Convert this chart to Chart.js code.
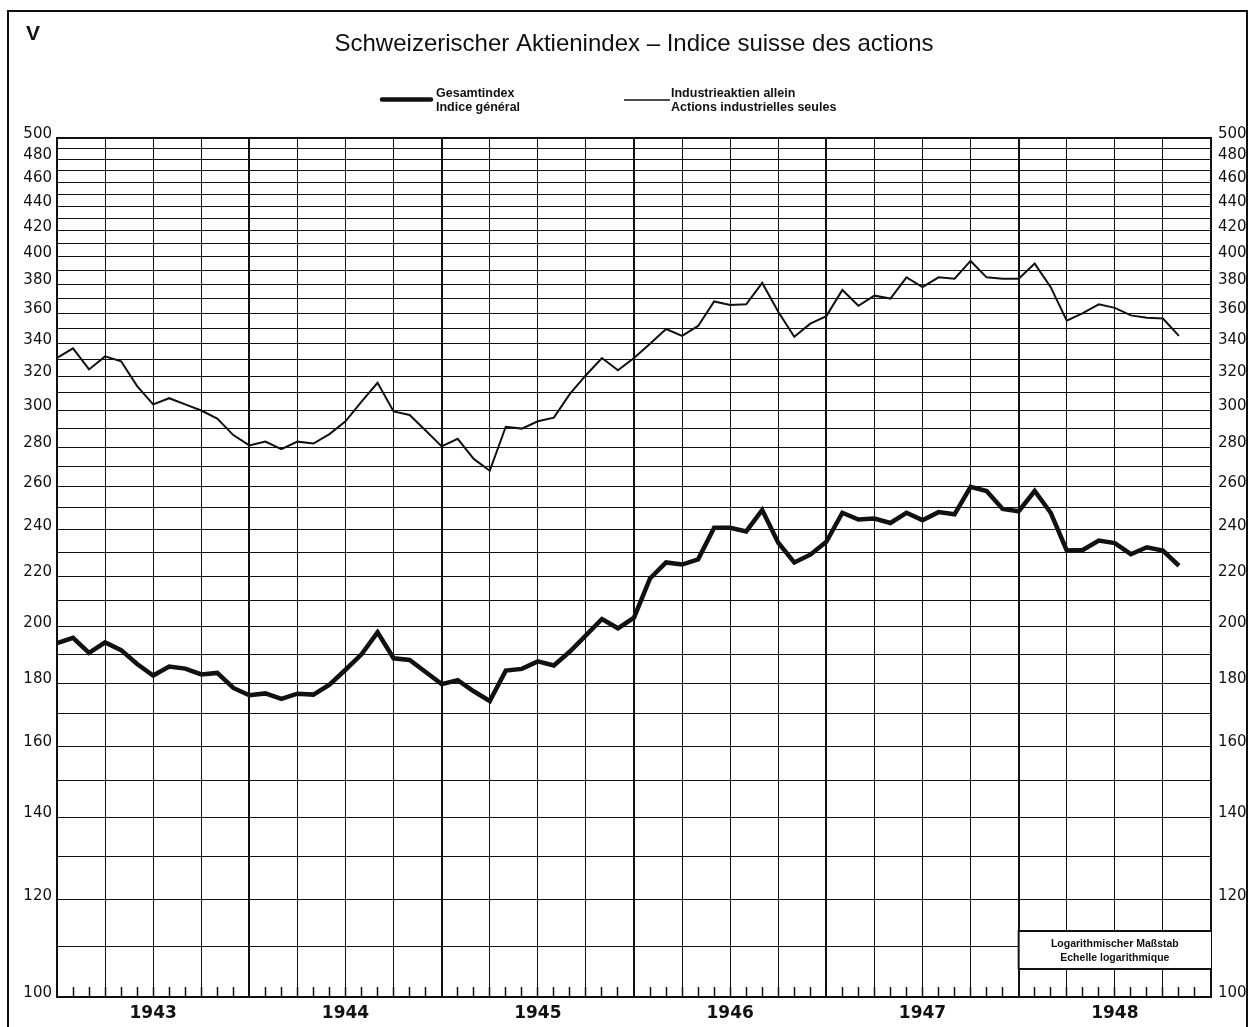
<!DOCTYPE html>
<html>
<head>
<meta charset="utf-8">
<script src="https://cdn.jsdelivr.net/npm/chart.js@4.4.1/dist/chart.umd.min.js"></script>
<style>
html,body{margin:0;padding:0;background:#fff;}
#wrap{position:relative;width:1251px;height:1027px;}
</style>
</head>
<body>
<div id="wrap"><canvas id="c"></canvas></div>
<script>
// ---- data (monthly, Jan 1943 .. Nov 1948) ----
const yearLabels = ['1943', '1944', '1945', '1946', '1947', '1948'];
const yGridValues = [100,110,120,130,140,150,160,170,180,190,200,210,220,230,240,250,260,270,280,290,300,310,320,330,340,350,360,370,380,390,400,410,420,430,440,450,460,470,480,490,500];
const yTickLabels = ['100','120','140','160','180','200','220','240','260','280','300','320','340','360','380','400','420','440','460','480','500'];

const gesamtindex = [
  194, 196, 190.5, 194.3, 191.5, 186.6, 182.6, 185.7, 185, 183, 183.5, 178.4,
  176, 176.6, 174.8, 176.5, 176.2, 179.5, 184.6, 190, 198, 188.6, 188, 183.8,
  179.7, 181, 177.3, 174.1, 184.3, 184.9, 187.5, 186.1, 191, 196.9, 203, 199.5,
  203.5, 219, 225.7, 224.8, 227, 240.8, 240.8, 239.2, 249, 234.2, 225.7, 229,
  234.6, 247.7, 244.6, 245, 243, 247.7, 244.3, 248, 247, 260, 258, 249.5,
  248.4, 258, 247.7, 230.8, 231, 235.1, 234, 229.2, 232.2, 230.8, 224.3
];
const industrieaktien = [
  331, 337, 324, 332, 329, 314, 303.5, 307, 303.5, 300, 295.5, 286.5,
  281, 283, 279, 283, 282, 287, 294, 305, 316, 299.5, 297.5, 289,
  280.5, 284.5, 274, 268, 291, 290, 294, 296, 309.5, 320.5, 331, 323.5,
  331, 340, 349.5, 345, 351.5, 368, 365.5, 366, 381, 361, 344.4, 353,
  358, 376, 365, 372, 370, 385, 378, 385, 384, 397, 385, 384,
  384, 395, 378, 355, 360, 366, 363.6, 358.5, 357, 356.4, 345
];
const monthTicks = Array.from({length: 73}, (_, i) => i);

const INK = '#111';

const deco = {
  id: 'deco',
  beforeDraw(chart) {
    const ctx = chart.ctx;
    ctx.save();
    ctx.fillStyle = '#fff';
    ctx.fillRect(0, 0, chart.width, chart.height);
    ctx.restore();
  },
  afterDraw(chart) {
    const ctx = chart.ctx;
    ctx.save();
    // outer frame
    ctx.strokeStyle = INK;
    ctx.lineWidth = 2;
    ctx.beginPath();
    ctx.moveTo(8, 1027); ctx.lineTo(8, 11); ctx.lineTo(1247, 11); ctx.lineTo(1247, 1027);
    ctx.stroke();
    // "V"
    ctx.fillStyle = INK;
    ctx.font = 'bold 21px "Liberation Sans"';
    ctx.textAlign = 'left';
    ctx.textBaseline = 'alphabetic';
    ctx.fillText('V', 26, 40);
    // legend
    ctx.lineCap = 'round';
    ctx.lineWidth = 4.5;
    ctx.beginPath(); ctx.moveTo(382, 99.5); ctx.lineTo(431, 99.5); ctx.stroke();
    ctx.lineCap = 'butt';
    ctx.lineWidth = 1.5;
    ctx.beginPath(); ctx.moveTo(624, 100); ctx.lineTo(670, 100); ctx.stroke();
    ctx.font = 'bold 12.5px "Liberation Sans"';
    ctx.fillText('Gesamtindex', 436, 97);
    ctx.fillText('Indice général', 436, 110.5);
    ctx.fillText('Industrieaktien allein', 671, 97);
    ctx.fillText('Actions industrielles seules', 671, 110.5);
    // scale box
    const xs = chart.scales.x;
    const bx1 = xs.getPixelForValue(60), bx2 = xs.right;
    ctx.fillStyle = '#fff';
    ctx.fillRect(bx1, 931, bx2 - bx1, 38);
    ctx.strokeStyle = INK;
    ctx.lineWidth = 2;
    ctx.beginPath();
    ctx.moveTo(bx1, 969); ctx.lineTo(bx1, 931); ctx.lineTo(bx2, 931);
    ctx.moveTo(bx1, 969); ctx.lineTo(bx2, 969);
    ctx.stroke();
    ctx.fillStyle = INK;
    ctx.textAlign = 'center';
    ctx.font = 'bold 10.5px "Liberation Sans"';
    ctx.fillText('Logarithmischer Maßstab', (bx1 + bx2) / 2, 946.5);
    ctx.fillText('Echelle logarithmique', (bx1 + bx2) / 2, 961);
    ctx.restore();
  }
};

const yCommon = {
  type: 'logarithmic',
  min: 100,
  max: 500,
  afterBuildTicks: (s) => { s.ticks = yGridValues.map(v => ({value: v})); },
  ticks: {
    autoSkip: false,
    labelOffset: -4,
    color: INK,
    font: {family: '"DejaVu Sans"', size: 15},
    callback: (v) => yTickLabels.includes(String(v)) ? String(v) : ''
  },
  border: {display: true, width: 2, color: INK}
};

new Chart(document.getElementById('c'), {
  type: 'line',
  data: {
    datasets: [
      {
        label: 'Gesamtindex – Indice général',
        data: gesamtindex.map((v, i) => ({x: monthTicks[i], y: v})),
        borderColor: INK,
        borderWidth: 4.5,
        pointRadius: 0,
        tension: 0,
        fill: false
      },
      {
        label: 'Industrieaktien allein – Actions industrielles seules',
        data: industrieaktien.map((v, i) => ({x: monthTicks[i], y: v})),
        borderColor: INK,
        borderWidth: 2,
        pointRadius: 0,
        tension: 0,
        fill: false
      }
    ]
  },
  options: {
    responsive: true,
    maintainAspectRatio: false,
    devicePixelRatio: 1,
    animation: false,
    events: [],
    layout: {padding: 0},
    plugins: {
      legend: {display: false},
      tooltip: {enabled: false},
      title: {
        display: true,
        fullSize: false,
        text: 'Schweizerischer Aktienindex – Indice suisse des actions',
        color: INK,
        font: {family: '"Liberation Sans"', size: 24, weight: 'normal'},
        padding: {top: 30.3, bottom: 78.7}
      }
    },
    scales: {
      x: {
        type: 'linear',
        position: 'bottom',
        min: 0,
        max: 72,
        afterBuildTicks: (s) => { s.ticks = monthTicks.map(v => ({value: v})); },
        afterFit: (s) => { s.height = 30; },
        grid: {
          color: (c) => (c.tick && c.tick.value % 3 === 0) ? INK : 'rgba(0,0,0,0)',
          lineWidth: (c) => (c.tick && c.tick.value % 12 === 0) ? 2 : 1,
          drawTicks: true,
          tickLength: -10,
          tickColor: INK,
          tickWidth: 1.5
        },
        border: {display: true, width: 2, color: INK},
        ticks: {
          autoSkip: false,
          maxRotation: 0,
          minRotation: 0,
          padding: 16,
          color: INK,
          font: {family: '"DejaVu Sans"', size: 17, weight: 'bold'},
          callback: (v) => (v % 12 === 6) ? yearLabels[(v - 6) / 12] : ''
        }
      },
      y: Object.assign({}, yCommon, {
        position: 'left',
        afterFit: (s) => { s.width = 57; },
        grid: {
          color: INK,
          lineWidth: (c) => (c.tick && c.tick.value === 500) ? 2 : 1,
          drawTicks: false
        },
        ticks: Object.assign({}, yCommon.ticks, {padding: 5})
      }),
      y2: Object.assign({}, yCommon, {
        position: 'right',
        afterFit: (s) => { s.width = 40; },
        grid: {drawOnChartArea: false, drawTicks: false},
        ticks: Object.assign({}, yCommon.ticks, {padding: 7})
      })
    }
  },
  plugins: [deco]
});
</script>
</body>
</html>
